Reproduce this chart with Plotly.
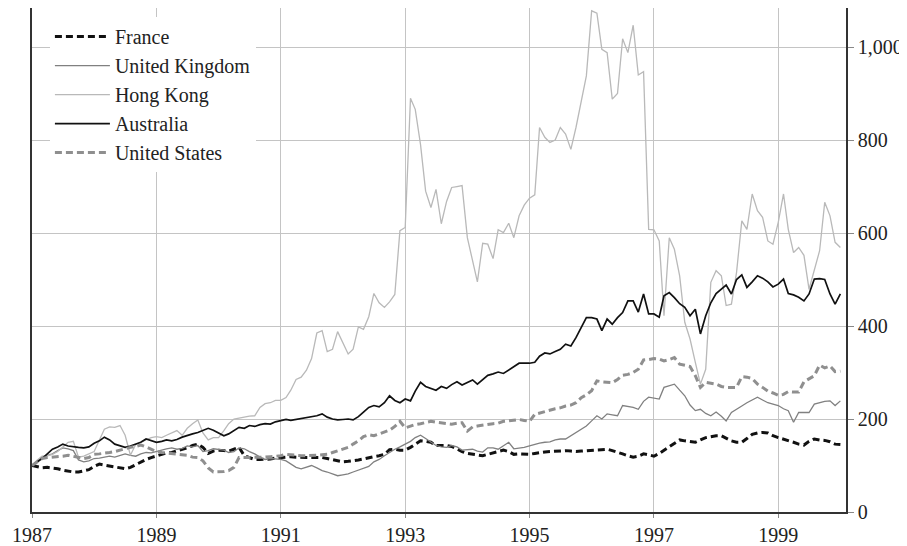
import pandas as pd
import plotly.graph_objects as go

# Monthly index values, Jan 1987 .. Jan 2000 (base 100)
months = pd.date_range("1987-01-01", periods=157, freq="MS")

france = [
    100, 97, 95, 96, 95, 93, 90, 88, 86, 86, 88, 91,
    98, 103, 101, 99, 97, 95, 93, 96, 102, 106, 113, 117,
    121, 124, 127, 128, 131, 135, 138, 143, 146, 139, 126, 131,
    133, 132, 131, 135, 139, 121, 117, 113, 113, 113, 114, 116,
    117, 119, 119, 118, 117, 117, 117, 117, 117, 115, 113, 110,
    108, 109, 110, 112, 114, 117, 119, 121, 124, 134, 135, 133,
    133, 139, 145, 153, 152, 150, 143, 143, 143, 141, 135, 130,
    126, 124, 123, 121, 124, 127, 130, 133, 130, 124, 125, 124,
    124, 126, 128, 129, 130, 131, 132, 132, 131, 130, 131, 132,
    132, 133, 135, 135, 132, 129, 125, 121, 118, 120, 125, 123,
    120, 126, 133, 140, 147, 155, 153, 151, 150, 155, 160, 162,
    164, 164, 158, 153, 150, 150, 158, 167, 170, 171, 170, 164,
    160, 157, 153, 150, 146, 144, 152, 157, 155, 154, 151, 146,
    145,
]

united_kingdom = [
    100, 110, 118, 122, 125, 132, 138, 136, 132, 112, 108, 110,
    115, 116, 118, 120, 118, 122, 125, 122, 120, 125, 128, 127,
    130, 134, 136, 138, 135, 137, 142, 140, 143, 130, 132, 136,
    135, 133, 128, 130, 138, 136, 130, 125, 118, 113, 115, 114,
    113, 110, 104, 96, 93, 97, 100, 95, 89, 86, 82, 78,
    80, 82, 86, 90, 93, 98, 108, 113, 121, 128, 135, 140,
    146, 152, 160, 165, 158, 150, 143, 140, 139, 143, 140, 133,
    134, 135, 131, 129, 138, 138, 135, 143, 150, 136, 137, 139,
    142, 146, 148, 150, 151, 155, 157, 157, 164, 171, 178, 185,
    196, 207, 200, 211, 209, 207, 229, 227, 225, 221, 238, 247,
    245, 243, 268, 271, 275, 262, 250, 230, 218, 221, 212, 207,
    215, 206, 196, 214, 220, 228, 235, 241, 247, 241, 235, 232,
    229, 222, 218, 193, 214, 214, 214, 232, 235, 238, 239, 229,
    239,
]

hong_kong = [
    100, 112, 120, 121, 124, 130, 140, 150, 152, 118, 120, 125,
    130, 155, 178, 183, 182, 186, 165, 122, 145, 150, 155, 160,
    162, 160, 165, 170, 175, 165, 180, 190, 198, 170, 155, 160,
    160, 175, 190, 200, 202, 205, 206, 207, 225, 233, 235, 240,
    240, 246, 262, 285, 290, 305, 330, 385, 390, 345, 350, 388,
    365, 340, 350, 398, 393, 420, 470, 450, 440, 452, 468, 605,
    612, 890, 866, 790, 690, 655, 694, 620, 668, 698, 700, 702,
    590, 540, 495, 578, 576, 545, 607, 601, 621, 590, 637, 660,
    675, 682, 827, 806, 795, 800, 827, 813, 780, 827, 880, 938,
    1078, 1073, 995, 988, 888, 900, 1018, 988, 1047, 940, 947, 608,
    607, 583, 422, 590, 565, 508, 408, 372, 322, 275, 307, 494,
    519, 508, 444, 447, 515, 626, 608, 684, 648, 634, 583, 576,
    623, 684, 608, 558, 569, 552, 479, 519, 562, 666, 637, 580,
    569,
]

australia = [
    100, 108, 115, 125, 135, 140, 146, 142, 140, 139, 138, 140,
    148, 153, 161, 155, 146, 142, 139, 142, 146, 150, 157, 154,
    150, 152, 155, 153, 156, 161, 165, 168, 171, 176, 180, 176,
    170, 164, 168, 175, 182, 180, 186, 184, 188, 190, 189, 194,
    196, 199, 197, 199, 201, 203, 204, 207, 211, 204, 200, 198,
    199, 200, 198, 205, 215, 225, 229, 226, 235, 250, 240, 235,
    243, 239, 260, 279, 270, 266, 262, 270, 266, 274, 280, 273,
    278, 284, 275, 285, 294, 297, 301, 298, 306, 312, 320, 320,
    320, 322, 335, 342, 340, 345, 350, 361, 357, 375, 398, 418,
    418, 415, 390, 415, 404, 418, 429, 454, 454, 430, 469, 426,
    426, 419, 465, 472, 461, 448, 440, 422, 436, 383, 422, 450,
    470, 480, 488, 469, 500, 510, 483, 495, 508, 503, 495, 484,
    490, 501, 470, 467, 462, 454, 469, 501, 502, 500, 469, 447,
    469,
]

united_states = [
    100, 108, 115, 117, 118, 118, 120, 122, 120, 117, 115, 117,
    124, 125, 126, 128, 130, 133, 137, 139, 141, 144, 140, 135,
    130, 128, 127, 126, 125, 124, 122, 118, 117, 110, 95, 86,
    86, 87, 89, 96, 117, 117, 117, 117, 118, 118, 119, 120,
    121, 124, 123, 121, 121, 121, 121, 122, 123, 124, 128, 132,
    135, 139, 146, 153, 162, 166, 164, 168, 172, 176, 184, 195,
    181, 185, 188, 190, 193, 195, 193, 192, 190, 189, 191, 192,
    174, 183, 185, 187, 189, 190, 191, 195, 196, 198, 199, 197,
    195, 210, 213, 216, 219, 222, 224, 228, 230, 235, 246, 252,
    261, 282, 280, 279, 278, 285, 294, 296, 300, 307, 327, 328,
    330, 329, 325, 328, 332, 318, 316, 313, 293, 268, 279, 277,
    275, 270, 268, 268, 268, 291, 290, 287, 275, 268, 260, 256,
    251, 253, 259, 258, 258, 280, 287, 293, 316, 310, 314, 302,
    303,
]

series = [
    ("France", france, "#111111", 3.0, "7px,4px"),
    ("United Kingdom", united_kingdom, "#808080", 1.3, "solid"),
    ("Hong Kong", hong_kong, "#b9b9b9", 1.3, "solid"),
    ("Australia", australia, "#111111", 1.7, "solid"),
    ("United States", united_states, "#8f8f8f", 3.0, "7px,4px"),
]

FONT = "Liberation Serif, Times New Roman, serif"

fig = go.Figure()
for name, vals, color, width, dash in series:
    fig.add_trace(go.Scatter(
        x=months, y=vals, name=name, mode="lines",
        line=dict(color=color, width=width, dash=dash),
    ))

# The page body adds an 8px offset; sizes/margins compensate for it.
fig.update_layout(
    width=899, height=538,
    margin=dict(l=24, r=61, t=0, b=34, autoexpand=False),
    paper_bgcolor="white", plot_bgcolor="white",
    font=dict(family=FONT, size=20, color="#222222"),
    showlegend=True,
    legend=dict(
        x=0.022, y=0.982, xanchor="left", yanchor="top",
        bgcolor="white", borderwidth=0,
        font=dict(family=FONT, size=20, color="#222222"),
        itemwidth=55, tracegroupgap=0,
    ),
)

fig.update_xaxes(
    type="date",
    range=["1987-01-01", "2000-02-03"],
    tick0="1987-01-01", dtick="M24", tickformat="%Y",
    showgrid=True, gridcolor="#c4c4c4", gridwidth=1,
    showline=True, linecolor="#333333", linewidth=1.5, mirror=True,
    ticks="outside", ticklen=4, tickcolor="#888888",
    tickfont=dict(family=FONT, size=20, color="#222222"),
    zeroline=False, automargin=False,
)
fig.update_yaxes(
    side="right",
    range=[0, 1084],
    tickvals=[0, 200, 400, 600, 800, 1000],
    tickformat=",",
    showgrid=True, gridcolor="#c4c4c4", gridwidth=1,
    showline=True, linecolor="#333333", linewidth=1.5, mirror=True,
    ticks="outside", ticklen=6, tickcolor="#888888",
    tickfont=dict(family=FONT, size=20, color="#222222"),
    zeroline=False, automargin=False,
)

fig.write_html("out.html")
